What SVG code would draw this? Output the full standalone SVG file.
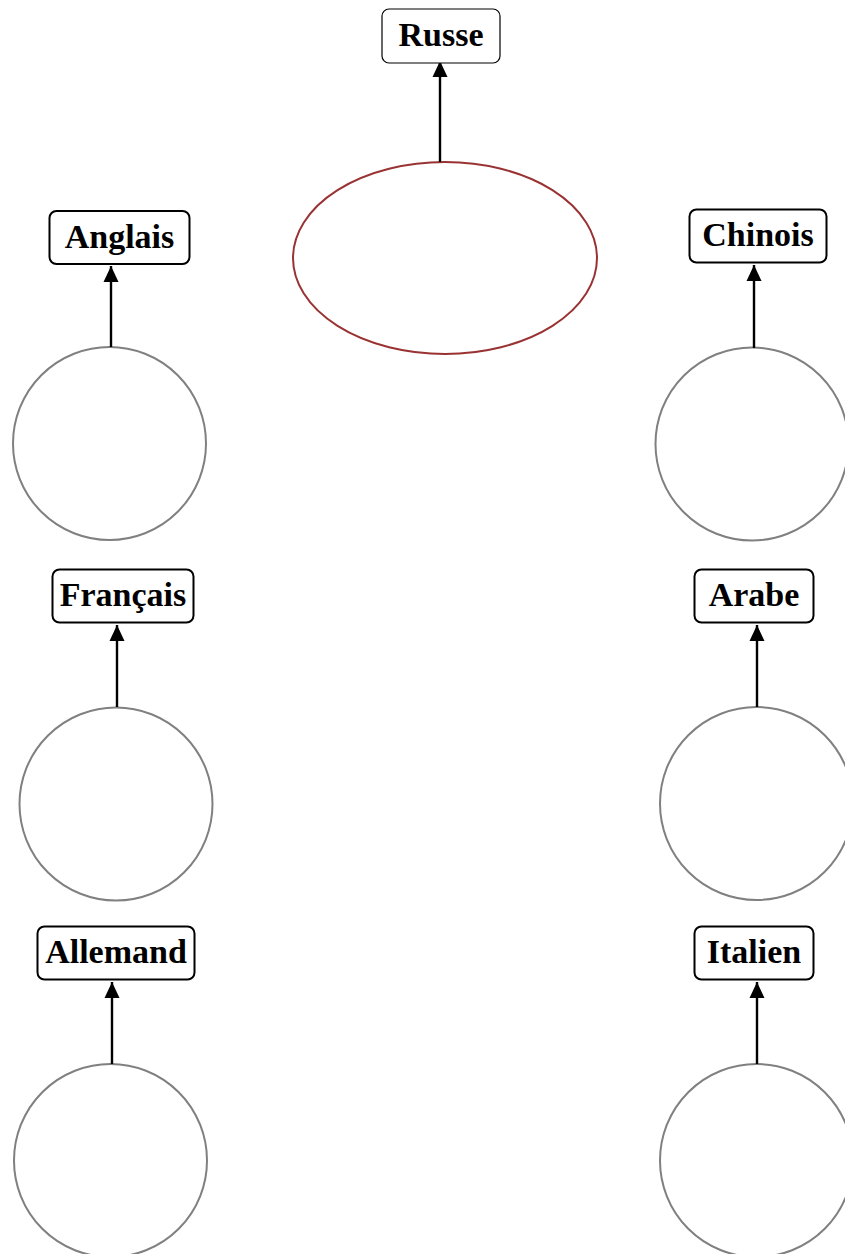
<svg xmlns="http://www.w3.org/2000/svg" width="845" height="1254" viewBox="0 0 845 1254">
<defs>
<style>
.box{fill:#fff;stroke:#000;stroke-width:2}
.box1{fill:#fff;stroke:#000;stroke-width:1.2}
.lbl{font-family:"Liberation Serif","Times New Roman",serif;font-weight:bold;font-size:34px;text-anchor:middle;fill:#000}
.circ{fill:#fff;stroke:#808080;stroke-width:2}
.ell{fill:#fff;stroke:#993333;stroke-width:2}
.conn{stroke:#000;stroke-width:2.4;fill:none;marker-end:url(#arr)}
</style>
<marker id="arr" markerUnits="userSpaceOnUse" markerWidth="18" markerHeight="18" viewBox="0 0 18 18" refX="16" refY="9" orient="auto">
<path d="M0,1.5 L16,9 L0,16.5 Z" fill="#000"/>
</marker>
</defs>
<rect width="845" height="1254" fill="#fff"/>
<g id="shapes">
<g id="ellipse-russe"><ellipse class="ell" cx="445" cy="258" rx="152" ry="96"/></g>
<g id="circle-anglais"><circle class="circ" cx="109.5" cy="443.5" r="96.5"/></g>
<g id="circle-chinois"><circle class="circ" cx="752" cy="444" r="96.5"/></g>
<g id="circle-francais"><circle class="circ" cx="116" cy="804" r="96.5"/></g>
<g id="circle-arabe"><circle class="circ" cx="756.5" cy="803.5" r="96.5"/></g>
<g id="circle-allemand"><circle class="circ" cx="110.5" cy="1160.5" r="96.5"/></g>
<g id="circle-italien"><circle class="circ" cx="756.5" cy="1160.5" r="96.5"/></g>
</g>
<g id="connectors">
<line class="conn" x1="440" y1="162" x2="440" y2="61"/>
<line class="conn" x1="111" y1="347" x2="111" y2="266"/>
<line class="conn" x1="754" y1="348" x2="754" y2="265"/>
<line class="conn" x1="117" y1="707" x2="117" y2="625"/>
<line class="conn" x1="757" y1="707" x2="757" y2="625"/>
<line class="conn" x1="112" y1="1064" x2="112" y2="982"/>
<line class="conn" x1="757" y1="1064" x2="757" y2="982"/>
</g>
<g id="russe"><rect class="box1" x="382" y="9" width="118" height="54" rx="7"/><text class="lbl" x="441" y="46">Russe</text></g>
<g id="anglais"><rect class="box" x="49.5" y="211" width="140" height="53" rx="7"/><text class="lbl" x="119.5" y="248">Anglais</text></g>
<g id="chinois"><rect class="box" x="689.5" y="209.5" width="137" height="53" rx="7"/><text class="lbl" x="758" y="246">Chinois</text></g>
<g id="francais"><rect class="box" x="52.5" y="569.5" width="141" height="53" rx="7"/><text class="lbl" x="123" y="606">Français</text></g>
<g id="arabe"><rect class="box" x="694.5" y="569.5" width="119" height="53" rx="7"/><text class="lbl" x="754" y="606">Arabe</text></g>
<g id="allemand"><rect class="box" x="37.5" y="926.5" width="157" height="53" rx="7"/><text class="lbl" x="116" y="963">Allemand</text></g>
<g id="italien"><rect class="box" x="694.5" y="926.5" width="119" height="53" rx="7"/><text class="lbl" x="754" y="963">Italien</text></g>
</svg>
